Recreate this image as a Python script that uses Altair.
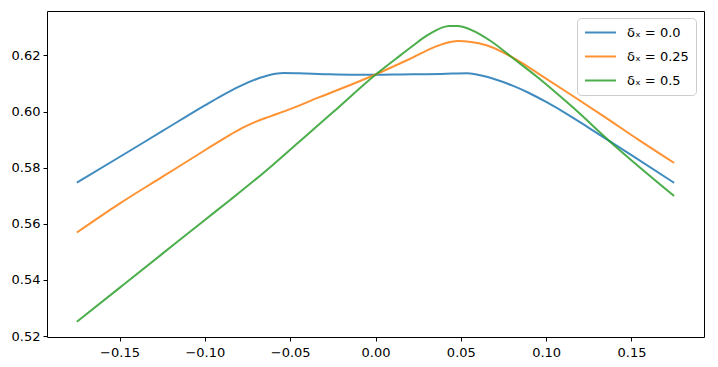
import altair as alt
import pandas as pd

series = ["δₓ = 0.0", "δₓ = 0.25", "δₓ = 0.5"]
colors = ["#1f77b4", "#ff7f0e", "#2ca02c"]

x_d0 = [-0.175, -0.15, -0.125, -0.10, -0.09, -0.08, -0.07, -0.062, -0.054, -0.045, -0.03, -0.015,
        0.0, 0.015, 0.03, 0.045, 0.054, 0.062, 0.07, 0.08, 0.09, 0.10, 0.1125, 0.125, 0.15, 0.175]
y_d0 = [0.5747, 0.5838, 0.5930, 0.6022, 0.6057, 0.6089, 0.6115, 0.6130, 0.6137, 0.6136, 0.6133, 0.6131,
        0.6131, 0.6132, 0.6133, 0.6135, 0.6136, 0.6128, 0.6115, 0.6093, 0.6066, 0.6034, 0.5990, 0.5942,
        0.5845, 0.5746]

x_d25 = [-0.175, -0.15, -0.125, -0.10, -0.085, -0.078, -0.07, -0.062, -0.052, -0.0325, -0.013, 0.0,
         0.02, 0.036, 0.042, 0.048, 0.056, 0.065, 0.075, 0.085, 0.095, 0.115, 0.134, 0.154, 0.175]
y_d25 = [0.5569, 0.5672, 0.5767, 0.5862, 0.5918, 0.5942, 0.5964, 0.5982, 0.6004, 0.6052, 0.6099, 0.6132,
         0.6187, 0.6233, 0.6245, 0.6251, 0.6248, 0.6236, 0.6210, 0.6176, 0.6137, 0.6058, 0.5982, 0.5900,
         0.5817]

x_d5 = [-0.175, -0.15, -0.125, -0.10, -0.085, -0.065, -0.045, -0.025, 0.0, 0.012, 0.0223, 0.03,
        0.036, 0.039, 0.043, 0.048, 0.052, 0.057, 0.0615, 0.0673, 0.081, 0.0948, 0.1143, 0.1398, 0.175]
y_d5 = [0.5251, 0.5372, 0.5493, 0.5614, 0.5686, 0.5785, 0.5891, 0.5997, 0.6131, 0.6188, 0.6236, 0.6270,
        0.6291, 0.6299, 0.6305, 0.6305, 0.6300, 0.6288, 0.6274, 0.6252, 0.6188, 0.6123, 0.6022, 0.5880,
        0.5699]

x_ticks = [-0.15, -0.10, -0.05, 0.0, 0.05, 0.10, 0.15]
y_ticks = [0.52, 0.54, 0.56, 0.58, 0.60, 0.62]

rows = []
for name, xs, ys in zip(series, [x_d0, x_d25, x_d5], [y_d0, y_d25, y_d5]):
    for a, b in zip(xs, ys):
        rows.append({"series": name, "x": a, "y": b})
df = pd.DataFrame(rows)

chart = alt.Chart(df).mark_line(strokeWidth=2, interpolate="monotone", opacity=0.85).encode(
    x=alt.X("x:Q", scale=alt.Scale(domain=[-0.1925, 0.1925], nice=False, zero=False),
            axis=alt.Axis(values=x_ticks, format=".2f", title=None, labelPadding=5)),
    y=alt.Y("y:Q", scale=alt.Scale(domain=[0.5197, 0.6358], nice=False, zero=False),
            axis=alt.Axis(values=y_ticks, format=".2f", title=None, labelPadding=3)),
    color=alt.Color("series:N", scale=alt.Scale(domain=series, range=colors),
                    legend=alt.Legend(title=None, orient="none", legendX=530, legendY=7)),
).properties(
    width=657, height=326,
    autosize=alt.AutoSizeParams(type="none"),
    padding={"left": 39, "top": 3, "right": 5, "bottom": 25},
).configure_view(
    stroke="black", strokeWidth=1
).configure_axis(
    domain=False, grid=False, tickColor="black", tickSize=4, tickWidth=1,
    labelFont="DejaVu Sans", labelFontSize=13, labelColor="black",
).configure_legend(
    strokeColor="#cccccc", fillColor="white", cornerRadius=4, padding=7,
    symbolType="stroke", symbolSize=961, symbolStrokeWidth=2,
    labelFont="DejaVu Sans", labelFontSize=13, labelColor="black",
    labelOffset=10, rowPadding=9, clipHeight=15,
)

chart.save("out.html", embed_options={"renderer": "svg", "actions": False})
